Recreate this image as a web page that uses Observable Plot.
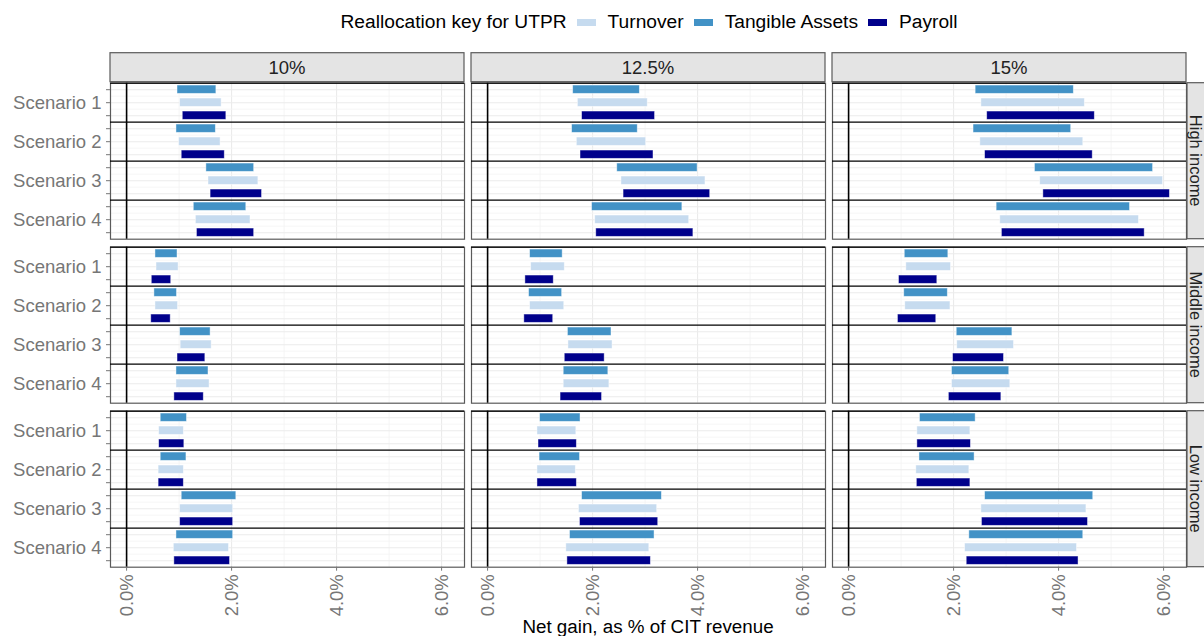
<!DOCTYPE html>
<html><head><meta charset="utf-8">
<script src="https://cdn.jsdelivr.net/npm/d3@7"></script>
<script src="https://cdn.jsdelivr.net/npm/@observablehq/plot@0.6"></script>
<style>
html,body{margin:0;padding:0;background:#fff;overflow:hidden;}
body{width:1204px;height:636px;font-family:"Liberation Sans",Arial,Helvetica,sans-serif;}
#legend{height:44px;display:flex;align-items:center;padding-left:340.5px;font-size:19.2px;color:#000;box-sizing:border-box;white-space:nowrap;}
.sw{display:inline-block;width:18.5px;height:7px;margin:0 12px 0 10.5px;}
#chart svg{display:block;}
</style></head><body>
<div id="legend"></div>
<div id="chart"></div>
<script>
// ---- data ----
const rates = ["10%", "12.5%", "15%"];
const incomes = ["High income", "Middle income", "Low income"];
const scenarios = ["Scenario 1", "Scenario 2", "Scenario 3", "Scenario 4"];
// order of bars inside a scenario, top to bottom
const keys = ["Tangible Assets", "Turnover", "Payroll"];
const keyColors = ["#4292C6", "#C6DBEF", "#00008B"];
const legendOrder = ["Turnover", "Tangible Assets", "Payroll"];
const legendTitle = "Reallocation key for UTPR";
const xTicks = [0, 2, 4, 6];
const xLabel = "Net gain, as % of CIT revenue";

// [low, high] net gain (% of CIT revenue); per scenario: Tangible, Turnover, Payroll
const high10 = [[0.97,1.71],[1.02,1.81],[1.07,1.90], [0.95,1.70],[1.00,1.79],[1.05,1.87],
                [1.52,2.43],[1.56,2.51],[1.60,2.58], [1.28,2.28],[1.32,2.36],[1.34,2.43]];
const high125 = [[1.63,2.90],[1.72,3.05],[1.80,3.19], [1.61,2.86],[1.70,3.02],[1.77,3.16],
                 [2.47,4.00],[2.55,4.15],[2.59,4.24], [1.99,3.71],[2.05,3.84],[2.07,3.92]];
const high15 = [[2.42,4.29],[2.53,4.50],[2.64,4.69], [2.38,4.24],[2.51,4.47],[2.60,4.65],
                [3.55,5.80],[3.65,5.99],[3.71,6.12], [2.82,5.36],[2.89,5.53],[2.92,5.64]];
const mid10 = [[0.55,0.97],[0.57,0.99],[0.48,0.85], [0.53,0.96],[0.55,0.98],[0.47,0.84],
               [1.02,1.60],[1.03,1.62],[0.97,1.50], [0.95,1.56],[0.95,1.58],[0.91,1.47]];
const mid125 = [[0.81,1.43],[0.83,1.47],[0.72,1.26], [0.79,1.42],[0.81,1.46],[0.70,1.25],
                [1.53,2.36],[1.54,2.38],[1.47,2.23], [1.45,2.30],[1.45,2.32],[1.39,2.18]];
const mid15 = [[1.07,1.90],[1.10,1.95],[0.96,1.69], [1.06,1.89],[1.08,1.94],[0.94,1.67],
               [2.06,3.12],[2.07,3.15],[1.99,2.96], [1.97,3.06],[1.97,3.08],[1.91,2.91]];
const low10 = [[0.65,1.15],[0.62,1.09],[0.62,1.10], [0.65,1.14],[0.61,1.09],[0.61,1.09],
               [1.05,2.09],[1.02,2.03],[1.02,2.03], [0.95,2.03],[0.90,1.95],[0.91,1.97]];
const low125 = [[1.00,1.77],[0.95,1.69],[0.97,1.70], [0.99,1.76],[0.95,1.68],[0.95,1.70],
                [1.80,3.32],[1.74,3.23],[1.76,3.25], [1.57,3.18],[1.50,3.08],[1.52,3.11]];
const low15 = [[1.36,2.42],[1.31,2.32],[1.31,2.33], [1.35,2.40],[1.29,2.30],[1.30,2.32],
               [2.60,4.66],[2.53,4.53],[2.54,4.56], [2.30,4.47],[2.22,4.35],[2.25,4.38]];

// ---- table for Plot ----
const panels = [
  ["High income", [high10, high125, high15]],
  ["Middle income", [mid10, mid125, mid15]],
  ["Low income", [low10, low125, low15]]
];
const table = [];
for (const [income, arrs] of panels) {
  arrs.forEach((arr, ri) => {
    arr.forEach(([lo, hi], i) => {
      table.push({income, rate: rates[ri], scenario: scenarios[Math.floor(i / 3)],
                  key: keys[i % 3], slot: i, lo, hi});
    });
  });
}

// ---- legend ----
const legend = d3.select("#legend");
legend.append("span").text(legendTitle);
legendOrder.forEach(k => {
  legend.append("span").attr("class", "sw").style("background", keyColors[keys.indexOf(k)]);
  legend.append("span").text(k);
});

// ---- plot ----
const W = 1204, H = 592;
const mL = 110, mR = 18, mT = 38.7, mB = 69.3;
const nSlots = scenarios.length * keys.length;
const centers = d3.range(nSlots).map(i => i + 0.5);
const minorY = d3.range(1, nSlots).filter(i => i % 3 !== 0);
const seps = d3.range(0, nSlots, 3);
const font = "'Liberation Sans', Arial, Helvetica, sans-serif";
const axisGray = "#767676";

const plot = Plot.plot({
  width: W, height: H,
  marginLeft: mL, marginRight: mR, marginTop: mT, marginBottom: mB,
  style: {fontFamily: font, background: "white", overflow: "visible"},
  fx: {domain: rates, paddingInner: 7 / 361, paddingOuter: 0, round: false, axis: null, label: null},
  fy: {domain: incomes, paddingInner: 8 / 164, paddingOuter: 0, round: false, axis: null, label: null},
  x: {domain: [-0.3065, 6.4365], label: null},
  y: {domain: [0, nSlots], reverse: true, label: null},
  color: {domain: keys, range: keyColors},
  marks: [
    Plot.ruleX([1, 3, 5], {stroke: "#f2f2f2", strokeWidth: 0.8}),
    Plot.ruleX(xTicks, {stroke: "#ebebeb", strokeWidth: 1.1}),
    Plot.ruleY(minorY, {stroke: "#f4f4f4", strokeWidth: 0.8}),
    Plot.ruleY(centers, {stroke: "#ebebeb", strokeWidth: 1.1}),
    Plot.rectX(table, {
      x1: "lo", x2: "hi",
      y1: d => d.slot + 0.18, y2: d => d.slot + 0.82,
      fx: "rate", fy: "income", fill: "key",
      stroke: "white", strokeOpacity: 0.55, strokeWidth: 0.8
    }),
    Plot.frame({stroke: "#5a5a5a", strokeWidth: 1.2}),
    Plot.ruleX([0], {stroke: "black", strokeWidth: 1.6}),
    Plot.ruleY(seps, {stroke: "black", strokeWidth: 1.3}),
    Plot.axisX({ticks: xTicks, tickFormat: d => d.toFixed(1) + "%", tickRotate: -90,
                tickSize: 4, tickPadding: 3, fontSize: 18.5, color: axisGray, label: null}),
    Plot.axisY({ticks: centers, tickSize: 4, tickPadding: 5, fontSize: 18.5, color: axisGray, label: null,
                tickFormat: d => { const i = Math.floor(d); return i % 3 === 1 ? scenarios[(i - 1) / 3] : ""; }})
  ]
});

document.getElementById("chart").appendChild(plot);

// ---- facet strips, placed with Plot's own fx / fy scales ----
const fxS = plot.scale("fx"), fyS = plot.scale("fy");
const svg = d3.select(plot);
const g = svg.append("g").attr("font-family", font);
rates.forEach(r => {
  const x0 = fxS.apply(r), bw = fxS.bandwidth;
  g.append("rect").attr("x", x0).attr("y", mT - 30).attr("width", bw).attr("height", 29)
    .attr("fill", "#e4e4e4").attr("stroke", "#5a5a5a").attr("stroke-width", 1.2);
  g.append("text").attr("x", x0 + bw / 2).attr("y", mT - 8.7).attr("text-anchor", "middle")
    .attr("font-size", 18.5).attr("fill", "#222").text(r);
});
incomes.forEach(inc => {
  const y0 = fyS.apply(inc), bh = fyS.bandwidth;
  const xs = W - mR + 1;
  g.append("rect").attr("x", xs).attr("y", y0).attr("width", 40).attr("height", bh)
    .attr("fill", "#e4e4e4").attr("stroke", "#5a5a5a").attr("stroke-width", 1.2);
  g.append("text").attr("transform", `translate(${xs + 2.5},${y0 + bh / 2}) rotate(90)`)
    .attr("text-anchor", "middle").attr("font-size", 16.5).attr("fill", "#222").text(inc);
});
const xr = [fxS.apply(rates[0]), fxS.apply(rates[rates.length - 1]) + fxS.bandwidth];
g.append("text").attr("x", (xr[0] + xr[1]) / 2).attr("y", H - 3).attr("text-anchor", "middle")
  .attr("font-size", 18.8).attr("fill", "#000").text(xLabel);
</script>
</body></html>
